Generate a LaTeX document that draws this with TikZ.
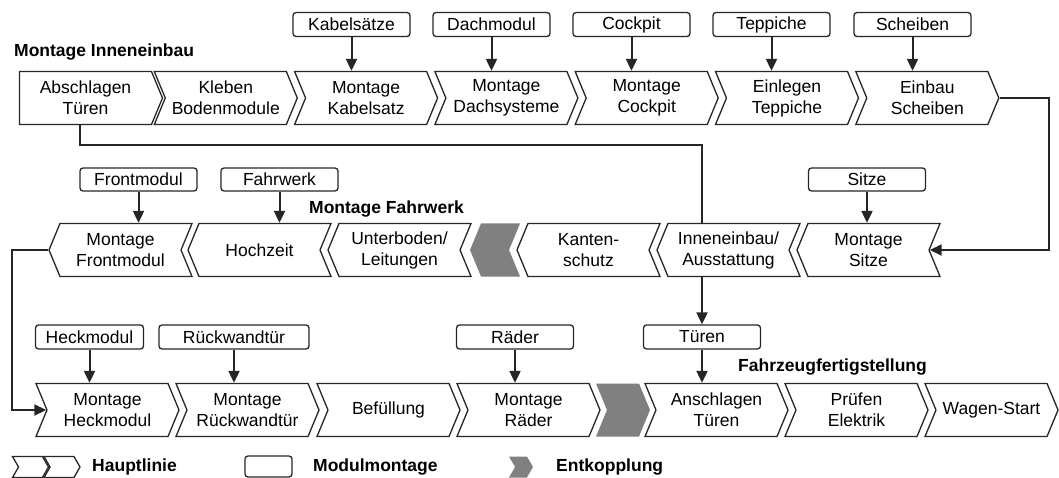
\documentclass[tikz,border=0pt]{standalone}
\usepackage{fontspec}
\setmainfont{Liberation Sans}
\usetikzlibrary{shapes.symbols,arrows.meta}
\tikzset{
    stepR/.style={signal, signal to=east, signal from=west, signal pointer angle=135,
        draw=black!85, line width=1.3pt, minimum width=143pt, minimum height=53pt,
        inner sep=0pt, align=center, font=\fontsize{17.5}{21}\selectfont},
    stepL/.style={stepR, signal to=west, signal from=east},
    entk/.style={fill=black!50, draw=none},
    modul/.style={rectangle, rounded corners=3pt, draw=black!85, line width=1.3pt,
        minimum width=117pt, minimum height=24pt, inner sep=0pt,
        font=\fontsize{17.5}{21}\selectfont},
    titel/.style={anchor=west, inner sep=0pt, font=\fontsize{17.5}{21}\selectfont\bfseries},
    flow/.style={line width=2pt, draw=black!85},
    feed/.style={flow, -{Triangle[width=11pt,length=12pt]}}
}

\begin{document}
\begin{tikzpicture}[x=1pt, y=-1pt]
  \useasboundingbox (0,0) rectangle (1059,478);

  % Montage Inneneinbau
  \node [titel] (inneneinbau) at (14,52) {Montage Inneneinbau};
  \node [stepR, signal from=nowhere] (abschlagen) at (85.5,98) {Abschlagen\\Türen};
  \node [stepR] (kleben) at (225.8,98) {Kleben\\Bodenmodule};
  \node [stepR] (kabelsatz) at (366.1,98) {Montage\\Kabelsatz};
  \node [stepR] (dachsys) at (506.4,98) {Montage\\Dachsysteme};
  \node [stepR] (cockpit) at (646.7,98) {Montage\\Cockpit};
  \node [stepR] (teppiche) at (787,98) {Einlegen\\Teppiche};
  \node [stepR] (scheiben) at (927.3,98) {Einbau\\Scheiben};

  \node [modul] (mkabel) at (351.5,24.5) {Kabelsätze};
  \node [modul] (mdach) at (491.5,24.5) {Dachmodul};
  \node [modul] (mcockpit) at (631.5,24.5) {Cockpit};
  \node [modul] (mteppich) at (771.5,24.5) {Teppiche};
  \node [modul] (mscheiben) at (912.5,24.5) {Scheiben};

  % Montage Fahrwerk
  \node [titel] (fahrwerk) at (309,209) {Montage Fahrwerk};
  \node [stepL] (frontmodul) at (120.5,250) {Montage\\Frontmodul};
  \node [stepL] (hochzeit) at (259.5,250) {Hochzeit};
  \node [stepL] (unterboden) at (399.5,250) {Unterboden/\\Leitungen};
  \node [stepL, entk, minimum width=50pt] (puffer1) at (495,250) {};
  \node [stepL] (kanten) at (588.5,250) {Kanten-\\schutz};
  \node [stepL] (ausstattung) at (728.5,250) {Inneneinbau/\\Ausstattung};
  \node [stepL] (sitze) at (868.5,250) {Montage\\Sitze};

  \node [modul, minimum height=23pt] (mfront) at (138.5,179.5) {Frontmodul};
  \node [modul, minimum height=23pt] (mfahrwerk) at (279.5,179.5) {Fahrwerk};
  \node [modul, minimum height=23pt] (msitze) at (867,179.5) {Sitze};

  % Fahrzeugfertigstellung
  \node [titel] (fertig) at (738,367) {Fahrzeugfertigstellung};
  \node [stepR] (heckmodul) at (107.5,410) {Montage\\Heckmodul};
  \node [stepR] (rueckwand) at (247.5,410) {Montage\\Rückwandtür};
  \node [stepR] (befuellung) at (388.5,410) {Befüllung};
  \node [stepR] (raeder) at (528.5,410) {Montage\\Räder};
  \node [stepR, entk, minimum width=54pt] (puffer2) at (623,410) {};
  \node [stepR] (anschlagen) at (716.5,410) {Anschlagen\\Türen};
  \node [stepR] (pruefen) at (856.5,410) {Prüfen\\Elektrik};
  \node [stepR, minimum width=133pt] (wagenstart) at (991.5,410) {Wagen-Start};

  \node [modul, minimum width=108pt] (mheck) at (89.5,337) {Heckmodul};
  \node [modul, minimum width=150pt] (mrueck) at (234,337) {Rückwandtür};
  \node [modul] (mraeder) at (515,337) {Räder};
  \node [modul] (mtueren) at (702,337) {Türen};

  % Zufuehrung der Module
  \draw [feed] (mkabel) -- (mkabel |- kabelsatz.north);
  \draw [feed] (mdach) -- (mdach |- dachsys.north);
  \draw [feed] (mcockpit) -- (mcockpit |- cockpit.north);
  \draw [feed] (mteppich) -- (mteppich |- teppiche.north);
  \draw [feed] (mscheiben) -- (mscheiben |- scheiben.north);
  \draw [feed] (mfront) -- (mfront |- frontmodul.north);
  \draw [feed] (mfahrwerk) -- (mfahrwerk |- hochzeit.north);
  \draw [feed] (msitze) -- (msitze |- sitze.north);
  \draw [feed] (mheck) -- (mheck |- heckmodul.north);
  \draw [feed] (mrueck) -- (mrueck |- rueckwand.north);
  \draw [feed] (mraeder) -- (mraeder |- raeder.north);
  \draw [feed] (mtueren) -- (mtueren |- anschlagen.north);

  % Tueren
  \draw [flow] ([xshift=-5.5pt]abschlagen.south) -- ++(0,20) -| (mtueren |- ausstattung.north);
  \draw [feed] (mtueren |- ausstattung.south) -- (mtueren);

  % Linienwechsel
  \draw [feed] (scheiben.east) -- ++(49,0) |- (sitze);
  \draw [feed] (frontmodul.west) -- ++(-36,0) |- (heckmodul);

  % Legende
  \node [stepR, minimum width=36pt, minimum height=21pt, signal pointer angle=120] (leg1) at (30.5,467) {};
  \node [stepR, minimum width=36pt, minimum height=21pt, signal pointer angle=120] (leg2) at (62,467) {};
  \node [titel] (hauptlinie) at (92,467) {Hauptlinie};
  \node [modul, minimum width=47pt, minimum height=21pt] (legmodul) at (268.5,466.5) {};
  \node [titel] (modulmontage) at (313,467) {Modulmontage};
  \node [stepR, entk, minimum width=24pt, minimum height=21pt, signal pointer angle=120] (legpuffer) at (521,467) {};
  \node [titel] (entkopplung) at (556,467) {Entkopplung};
\end{tikzpicture}
\end{document}
